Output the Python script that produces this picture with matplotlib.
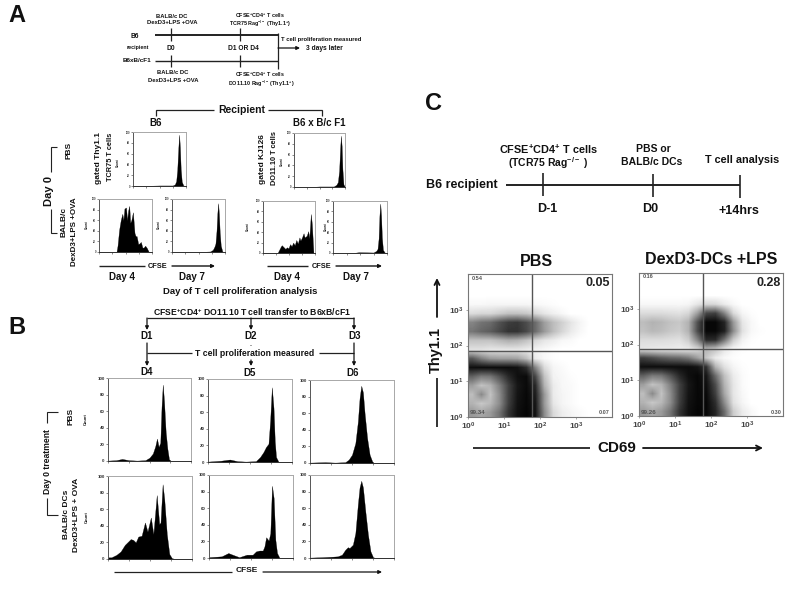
import matplotlib
matplotlib.use("Agg")
import numpy as np
import matplotlib.pyplot as plt

plt.rcParams['font.family'] = ['Liberation Sans', 'DejaVu Sans']
plt.rcParams['font.weight'] = 'bold'
plt.rcParams['mathtext.fontset'] = 'custom'
plt.rcParams['mathtext.rm'] = 'Liberation Sans:bold'
plt.rcParams['mathtext.bf'] = 'Liberation Sans:bold'
plt.rcParams['mathtext.default'] = 'rm'

# ---------- CFSE histograms: position (% of axis) and count ----------
a_b6_pbs_x = [0, 30, 50, 75, 79, 81.5, 83.5, 85.5, 87, 88.5, 90, 92, 95, 100]
a_b6_pbs_y = [0, 0.5, 1, 1, 3, 9, 30, 70, 95, 72, 32, 8, 1, 0]
a_f1_pbs_x = [0, 40, 50, 78, 83, 86, 88.5, 90.5, 92, 93.5, 95, 97, 100]
a_f1_pbs_y = [0, 0.5, 1, 1, 4, 9, 30, 72, 95, 75, 32, 5, 0]
a_b6_d4_x = [0, 33, 35, 38, 41, 44, 46, 48, 51, 53, 55, 57, 59, 61, 64, 67, 69, 71, 74, 76, 79, 82, 85, 87, 90, 94, 100]
a_b6_d4_y = [0, 0, 12, 42, 60, 72, 60, 82, 84, 60, 78, 87, 55, 60, 75, 36, 30, 30, 15, 16, 19, 8, 9, 12, 8, 0, 0]
a_b6_d7_x = [0, 60, 72, 77, 80, 82, 84, 85.5, 87, 88.5, 90, 92, 95, 100]
a_b6_d7_y = [0, 0.5, 1, 4, 10, 16, 40, 72, 92, 72, 38, 12, 1, 0]
a_f1_d4_x = [0, 28, 31, 34, 36, 39, 43, 46, 49, 52, 55, 58, 61, 64, 67, 70, 72, 75, 78, 80, 84, 87, 89, 92, 94, 97, 100]
a_f1_d4_y = [0, 0, 6, 12, 15, 12, 8, 11, 9, 17, 13, 20, 15, 25, 18, 30, 24, 30, 38, 30, 33, 42, 28, 75, 55, 0, 0]
a_f1_d7_x = [0, 40, 48, 75, 80, 82.5, 84.5, 86, 87.5, 89, 90.5, 92.5, 96, 100]
a_f1_d7_y = [0, 0.5, 1.5, 1, 4, 8, 28, 72, 95, 72, 30, 6, 0.5, 0]

b_d4_pbs_x = [0, 10, 17, 25, 35, 45, 50, 54, 57, 59, 61, 63, 64.5, 66, 67.5, 69.5, 71.5, 73.5, 76, 100]
b_d4_pbs_y = [0.5, 1, 2.5, 1, 0.5, 1, 4, 9, 18, 27, 17, 22, 65, 92, 72, 35, 15, 2, 0, 0]
b_d5_pbs_x = [0, 15, 26, 35, 45, 57, 62, 66, 69, 72, 74, 76, 78, 79.5, 81, 84, 100]
b_d5_pbs_y = [0.5, 1.5, 3, 1, 0.5, 1, 6, 12, 18, 22, 50, 90, 65, 25, 6, 0, 0]
b_d6_pbs_x = [0, 18, 30, 42, 46, 50, 54, 57, 59, 61, 63, 65, 68, 71, 74, 76, 100]
b_d6_pbs_y = [0.5, 1, 0.5, 1, 4, 10, 24, 50, 78, 93, 85, 60, 30, 10, 2, 0, 0]
b_d4_dc_x = [0, 4, 10, 15, 20, 24, 27, 30, 33, 36, 40, 44, 47, 51, 54, 58, 61, 62.5, 65, 67, 70, 73, 76, 80, 100]
b_d4_dc_y = [2, 2, 5, 9, 17, 21, 24, 23, 20, 27, 28, 44, 33, 50, 30, 77, 42, 44, 90, 72, 30, 6, 1, 0, 0]
b_d5_dc_x = [0, 15, 23, 28, 36, 45, 52, 56, 60, 64, 66, 68, 71, 73, 75, 77, 79, 81, 84, 100]
b_d5_dc_y = [1, 2, 6, 4, 1, 4, 4, 8, 9, 9, 14, 25, 21, 30, 87, 72, 22, 6, 0, 0]
b_d6_dc_x = [0, 15, 25, 33, 38, 42, 45, 47, 51, 54, 57, 59, 61, 63, 66, 69, 72, 75, 78, 100]
b_d6_dc_y = [0.5, 1, 1.5, 2, 4, 10, 13, 12, 16, 30, 65, 85, 93, 85, 55, 28, 8, 1, 0, 0]

# ---------- Flow cytometry density, shade per quarter decade (0 black, 100 white), top row first ----------
flow_pbs = [
 [100]*16, [100]*16, [100]*16,
 [97,97,96,96,96,96,96,97,98,99,100,100,100,100,100,100],
 [86,84,84,80,76,76,78,84,90,94,97,100,100,100,100,100],
 [52,45,42,32,24,22,30,42,62,74,82,90,96,100,100,100],
 [46,40,36,28,20,20,28,42,60,74,84,92,97,100,100,100],
 [76,76,76,72,68,70,76,84,90,93,97,98,100,100,100,100],
 [88,88,90,90,90,90,92,95,97,99,100,100,100,100,100,100],
 [35,50,60,62,62,64,74,92,97,99,100,100,100,100,100,100],
 [6,5,5,5,5,7,18,52,86,96,98,100,100,100,100,100],
 [38,48,46,32,16,6,4,28,76,95,97,99,100,100,100,100],
 [62,76,70,50,26,9,4,16,70,92,97,98,100,100,100,100],
 [74,54,76,55,26,8,3,12,60,92,96,98,100,100,100,100],
 [70,78,72,55,25,7,3,9,60,90,96,98,100,100,100,100],
 [60,65,60,45,20,6,2,8,55,85,93,96,98,100,100,100],
]
flow_dex = [
 [100]*16, [100]*16, [100]*16,
 [97,97,97,97,97,96,90,84,85,92,97,100,100,100,100,100],
 [86,86,86,87,88,84,62,28,25,52,85,96,99,100,100,100],
 [74,70,72,76,78,70,32,3,3,14,60,90,97,100,100,100],
 [76,72,74,78,80,70,30,3,3,12,55,88,97,99,100,100],
 [86,86,86,87,88,80,52,16,17,46,80,95,99,100,100,100],
 [90,91,92,92,93,92,85,70,76,90,97,99,100,100,100,100],
 [25,30,36,40,42,48,62,78,92,97,99,100,100,100,100,100],
 [6,5,5,5,5,5,8,20,70,88,96,99,100,100,100,100],
 [38,48,46,32,16,6,3,9,42,75,92,98,100,100,100,100],
 [62,76,70,50,26,9,3,6,30,70,90,98,100,100,100,100],
 [74,54,76,55,26,8,3,4,25,65,90,97,100,100,100,100],
 [70,78,72,55,25,7,3,3,18,55,88,96,100,100,100,100],
 [60,65,60,45,20,6,2,3,14,42,80,92,97,100,100,100],
]
flow_ticks = [0, 1, 2, 3]
flow_tick_labels = ['$10^{0}$', '$10^{1}$', '$10^{2}$', '$10^{3}$']
pbs_gate = (1.78, 1.86)
dex_gate = (1.78, 1.87)
pbs_corner = ['0.54', '0.05', '99.34', '0.07']
dex_corner = ['0.16', '0.28', '99.26', '0.30']
hist_ticks = [0, 20, 40, 60, 80, 100]

W, H = 800, 600
fig = plt.figure(figsize=(8, 6), dpi=100, facecolor='white')
ov = fig.add_axes([0, 0, 1, 1], zorder=5)
ov.set_xlim(0, W); ov.set_ylim(H, 0); ov.axis('off'); ov.patch.set_alpha(0)


def T(x, y, s, size=5, rot=0, **kw):
    kw.setdefault('color', '#111111')
    ov.text(x, y, s, fontsize=size, rotation=rot, ha='center', va='center', fontweight='bold', **kw)


def L(xs, ys, lw=1.0, c='#222222'):
    ov.plot(xs, ys, color=c, lw=lw, solid_capstyle='butt', solid_joinstyle='miter')


def AR(x0, y0, x1, y1, lw=1.0, ms=5, style='-|>'):
    ov.annotate('', xy=(x1, y1), xytext=(x0, y0),
                arrowprops=dict(arrowstyle=style, color='#111111', lw=lw, mutation_scale=ms,
                                shrinkA=0, shrinkB=0))


def rect(l, t, r, b):
    return [l / W, 1 - b / H, (r - l) / W, (b - t) / H]


def hist(box, x, y, label_size=2.5, tick_len=1.2):
    ax = fig.add_axes(rect(*box))
    ax.fill_between(x, y, 0, color='black', lw=0.2)
    ax.set_xlim(0, 100); ax.set_ylim(0, 100)
    ax.set_yticks(hist_ticks)
    ax.set_yticklabels([str(v) for v in hist_ticks], fontsize=label_size)
    ax.set_xticks(range(0, 101, 25))
    ax.set_xticks(range(0, 101, 5), minor=True)
    ax.set_xticklabels([])
    ax.tick_params(axis='both', length=tick_len, width=0.4, pad=0.8, colors='#333333')
    ax.tick_params(axis='x', which='minor', length=tick_len * 0.6, width=0.3, color='#555555')
    for s in ax.spines.values():
        s.set_linewidth(0.7)
        s.set_color('#a8a8a8')
    ax.spines['bottom'].set_color('#333333')
    ax.spines['left'].set_color('#555555')
    return ax


def flow(box, grid, gate, corners, cpos):
    ax = fig.add_axes(rect(*box))
    ax.imshow(np.array(grid, dtype=float), cmap='gray', vmin=0, vmax=100, extent=(0, 4, 0, 4),
              origin='upper', aspect='auto', interpolation='bilinear')
    ax.axvline(gate[0], color='#555555', lw=1.0)
    ax.axhline(gate[1], color='#555555', lw=1.0)
    ax.set_xlim(0, 4); ax.set_ylim(0, 4)
    ax.set_xticks(flow_ticks); ax.set_yticks(flow_ticks)
    ax.set_xticklabels(flow_tick_labels, fontsize=6, color='#444444')
    ax.set_yticklabels(flow_tick_labels, fontsize=6, color='#444444')
    ax.tick_params(length=1.5, width=0.4, pad=1.5, color='#666666')
    for s in ax.spines.values():
        s.set_linewidth(0.8)
        s.set_color('#777777')
    for (cx, cy), s, sz in zip(cpos, corners, (4, 9, 4.5, 4)):
        T(cx, cy, s, sz, color='#222222' if sz == 9 else '#555555')


# ---------- Panel letters ----------
T(17, 16, 'A', 17); T(17, 327, 'B', 17); T(433, 104, 'C', 17)

# ---------- Panel A schema ----------
sup = r'CFSE$^{+}$CD4$^{+}$ T cells'
T(172, 16.5, 'BALB/c DC', 4.2); T(172, 23, 'DexD3+LPS +OVA', 4.2)
T(260, 15.5, sup, 3.9); T(260, 24, r'TCR75 Rag$^{-/-}$ (Thy1.1$^{+}$)', 3.9)
T(135, 36, 'B6', 4.8); T(138, 48, 'recipient', 3.8); T(171, 49, 'D0', 4.8); T(243, 48, 'D1 OR D4', 4.8)
T(137, 61, 'B6xB/cF1', 4.6)
L([155, 278], [35, 35], 1.4); L([155, 278], [61, 61], 1.0)
for xt in (171, 240):
    L([xt, xt], [28, 41], 0.9); L([xt, xt], [55, 67], 0.9)
L([278, 278], [33, 69], 0.9)
AR(278, 48, 300, 48, 0.9, 5)
T(321, 40, 'T cell proliferation measured', 4.2); T(324, 48, '3 days later', 4.8)
T(173, 73, 'BALB/c DC', 4.2); T(173, 80, 'DexD3+LPS +OVA', 4.2)
T(260, 74.5, sup, 3.9); T(261, 83.5, r'DO11.10 Rag$^{-/-}$ (Thy1.1$^{+}$)', 3.9)

T(242, 110, 'Recipient', 7.5)
L([156, 156, 214], [116, 110, 110], 0.9); L([268, 322, 322], [110, 110, 116], 0.9)
T(156, 123, 'B6', 7); T(319, 123, 'B6 x B/c F1', 7)

# ---------- Panel A histograms ----------
hist((133, 132, 186, 186), a_b6_pbs_x, a_b6_pbs_y, 1.8)
hist((294, 133, 345, 187), a_f1_pbs_x, a_f1_pbs_y, 1.8)
hist((99, 199, 152, 252), a_b6_d4_x, a_b6_d4_y, 1.8)
hist((172, 199, 225, 252), a_b6_d7_x, a_b6_d7_y, 1.8)
hist((263, 201, 315, 253), a_f1_d4_x, a_f1_d4_y, 1.8)
hist((333, 201, 387, 253), a_f1_d7_x, a_f1_d7_y, 1.8)

T(69, 150, 'PBS', 6, 90); T(99, 158, 'gated Thy1.1', 6, 90); T(111, 157, 'TCR75 T cells', 5.3, 90)
T(118, 163, 'Count', 2.2, 90); T(263, 159, 'gated KJ126', 6, 90); T(274, 158, 'DO11.10 T cells', 5.3, 90)
T(282, 162, 'Count', 2.2, 90)
T(49, 191, 'Day 0', 8, 90)
L([57, 51, 51], [147, 147, 172], 0.8); L([51, 51, 57], [209, 233, 233], 0.8)
T(64, 222, 'BALB/c', 6, 90); T(74, 232, 'DexD3+LPS +OVA', 5.8, 90)
for cx, cy in ((87, 225), (159, 225), (248, 227), (326, 227)):
    T(cx, cy, 'Count', 2.2, 90)
L([99, 145], [266, 266], 1.0); T(158, 266, 'CFSE', 5.3); AR(172, 266, 215, 266, 1.0, 5)
L([267, 308], [266, 266], 1.0); T(322, 267, 'CFSE', 5.3); AR(336, 266, 382, 266, 1.0, 5)
for xd, sd in ((122, 'Day 4'), (192, 'Day 7'), (287, 'Day 4'), (356, 'Day 7')):
    T(xd, 277, sd, 7)
T(240, 291, 'Day of T cell proliferation analysis', 6.8)

# ---------- Panel B schema ----------
T(252, 312, r'CFSE$^{+}$CD4$^{+}$ DO11.10 T cell transfer to B6xB/cF1', 6.2)
L([147, 354], [318, 318], 0.9)
for xa in (147, 251, 354):
    AR(xa, 318, xa, 330, 0.9, 5)
T(147, 336, 'D1', 7); T(251, 336, 'D2', 7); T(355, 336, 'D3', 7)
T(251, 344, '.', 5)
L([147, 192], [353, 353], 0.9); L([319, 354], [353, 353], 0.9)
T(255, 353, 'T cell proliferation measured', 6.2)
AR(147, 343, 147, 366, 0.9, 5); AR(354, 343, 354, 366, 0.9, 5); AR(251, 360, 251, 366, 0.9, 5)
T(147, 372, 'D4', 7); T(250, 373, 'D5', 7); T(353, 373, 'D6', 7)

# ---------- Panel B histograms ----------
hist((108, 378, 191, 461), b_d4_pbs_x, b_d4_pbs_y, 3.2, 1.6)
hist((208, 379, 292, 462), b_d5_pbs_x, b_d5_pbs_y, 3.2, 1.6)
hist((310, 380, 394, 463), b_d6_pbs_x, b_d6_pbs_y, 3.2, 1.6)
hist((108, 476, 192, 559), b_d4_dc_x, b_d4_dc_y, 3.2, 1.6)
hist((209, 475, 293, 558), b_d5_dc_x, b_d5_dc_y, 3.2, 1.6)
hist((310, 475, 394, 558), b_d6_dc_x, b_d6_dc_y, 3.2, 1.6)

T(71, 416, 'PBS', 6, 90); T(86, 419, 'Count', 3, 90); T(47, 462, 'Day 0 treatment', 6.2, 90)
L([58, 47, 47], [412, 412, 423], 0.8); L([47, 47, 58], [498, 515, 515], 0.8)
T(67, 514, 'BALB/c DCs', 6, 90); T(77, 515, 'DexD3+LPS + OVA', 6, 90); T(87, 517, 'Count', 3, 90)
L([114, 232], [572, 572], 0.9); T(247, 571, 'CFSE', 6); AR(263, 572, 382, 572, 0.9, 5)

# ---------- Panel C schema ----------
T(548, 149, sup, 7.8); T(548, 163, r'(TCR75 Rag$^{-/-}$ )', 7.5)
T(653, 149, 'PBS or', 7.5); T(652, 162, 'BALB/c DCs', 7.5); T(742, 160, 'T cell analysis', 7.8)
T(462, 185, 'B6 recipient', 9)
L([506, 740], [185, 185], 1.4)
L([543, 543], [173, 196], 1.2); L([653, 653], [174, 197], 1.2); L([740, 740], [175, 198], 1.2)
T(547, 209, 'D-1', 9); T(650, 209, 'D0', 9); T(739, 211, '+14hrs', 9)

# ---------- Panel C flow plots ----------
T(536, 261, 'PBS', 11.5); T(711, 260, 'DexD3-DCs +LPS', 11.5)
flow((468, 274, 612, 417), flow_pbs, pbs_gate, pbs_corner, ((477, 278), (598, 283), (478, 413), (604, 413)))
flow((639, 273, 783, 416), flow_dex, dex_gate, dex_corner, ((648, 277), (769, 283), (649, 412), (776, 412)))

T(436, 350, 'Thy1.1', 10.5, 90)
AR(437, 317, 437, 278, 1.3, 9, '->'); L([437, 437], [378, 427], 1.3)
L([473, 590], [448, 448], 1.3); T(617, 448, 'CD69', 11); AR(643, 448, 763, 448, 1.3, 9, '->')

fig.savefig('out.png', dpi=100, facecolor='white')
